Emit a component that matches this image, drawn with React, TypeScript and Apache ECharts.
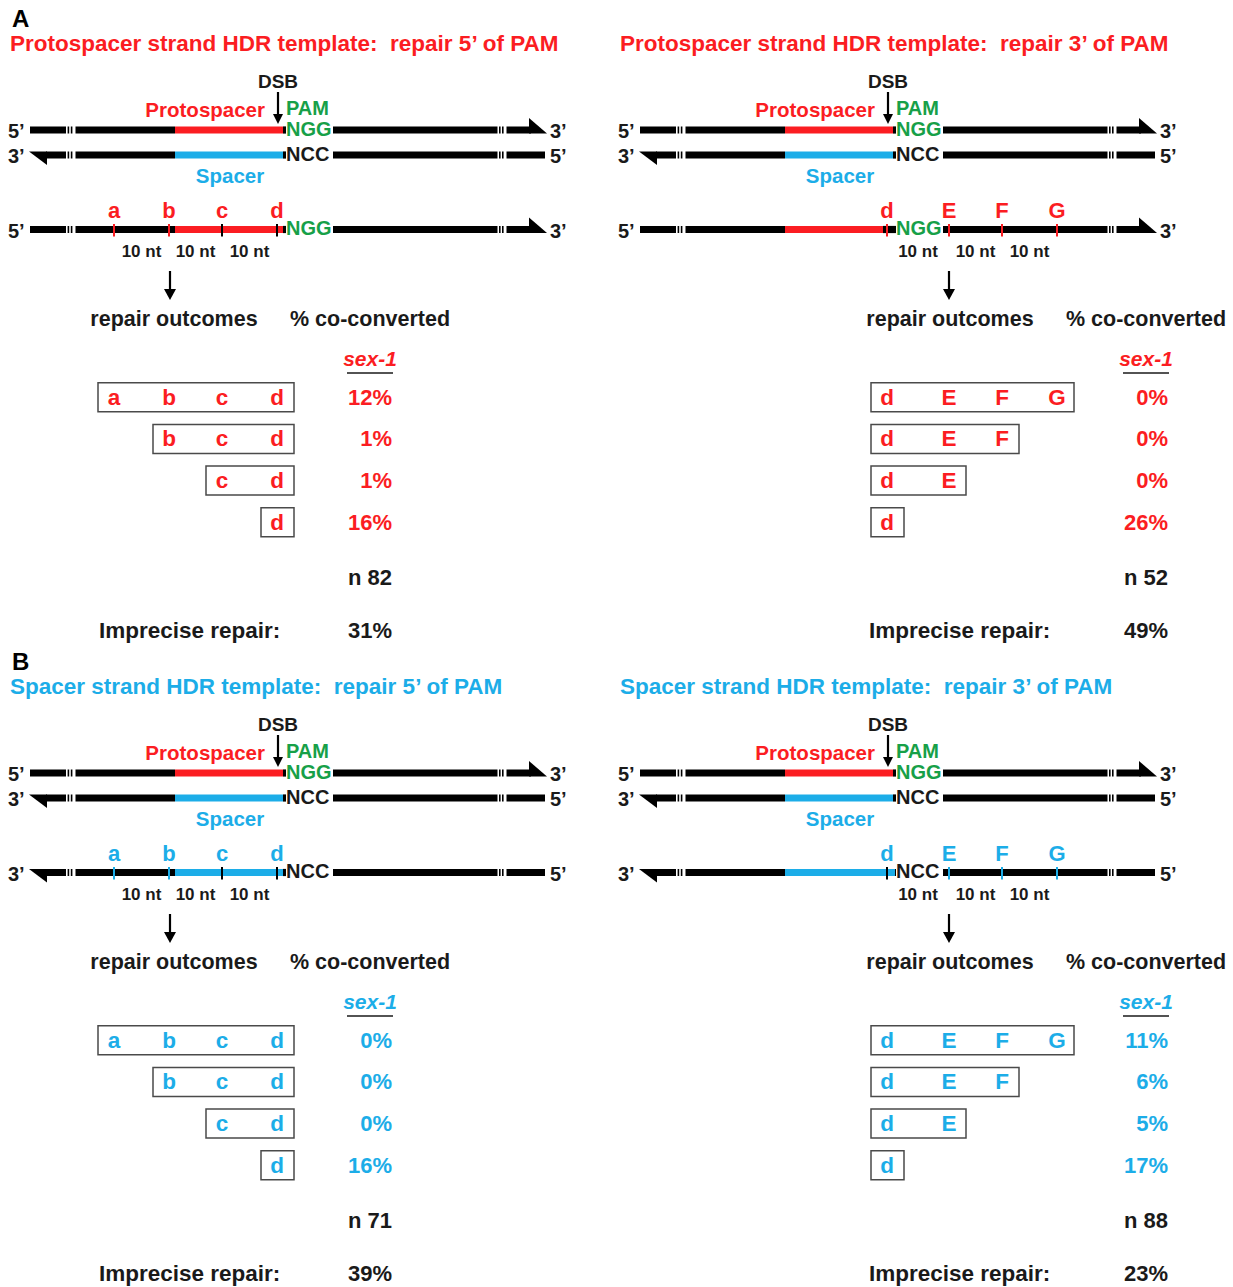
import React, { useEffect, useRef } from 'react';
import * as echarts from 'echarts';

// ---------- data ----------
const panelLetters = ['A', 'B'];
const panelTitles = [
  'Protospacer strand HDR template:  repair 5’ of PAM',
  'Protospacer strand HDR template:  repair 3’ of PAM',
  'Spacer strand HDR template:  repair 5’ of PAM',
  'Spacer strand HDR template:  repair 3’ of PAM',
];
const markers5 = ['a', 'b', 'c', 'd'];
const markers3 = ['d', 'E', 'F', 'G'];
const spacingLabel = '10 nt';
const outcomes5 = [['a', 'b', 'c', 'd'], ['b', 'c', 'd'], ['c', 'd'], ['d']];
const outcomes3 = [['d', 'E', 'F', 'G'], ['d', 'E', 'F'], ['d', 'E'], ['d']];
const coConvertedA5 = [12, 1, 1, 16];
const coConvertedA3 = [0, 0, 0, 26];
const coConvertedB5 = [0, 0, 0, 16];
const coConvertedB3 = [11, 6, 5, 17];
const nValues = [82, 52, 71, 88];
const impreciseRepair = [31, 49, 39, 23];
const geneName = 'sex-1';

// ---------- style ----------
const RED = '#fb1d22';
const BLUE = '#1cade8';
const GREEN = '#17a048';
const INK = '#1a1a1a';
const FONT = '"Liberation Sans", Arial, Helvetica, sans-serif';
const HB = 3.6; // half bar thickness

type El = any;

function txt(x: number, y: number, s: string, size: number, fill: string, align = 'left', italic = false): El {
  return {
    type: 'text',
    x,
    y,
    style: {
      text: s,
      fill,
      fontSize: size,
      fontWeight: 'bold',
      fontStyle: italic ? 'italic' : 'normal',
      fontFamily: FONT,
      align,
      verticalAlign: 'middle',
      textAlign: align,
      textVerticalAlign: 'middle',
    },
  };
}
function rect(x1: number, x2: number, y1: number, y2: number, fill: string): El {
  return { type: 'rect', shape: { x: x1, y: y1, width: x2 - x1, height: y2 - y1 }, style: { fill } };
}
function bar(x1: number, x2: number, yc: number, fill: string): El {
  return rect(x1, x2, yc - HB, yc + HB, fill);
}
function poly(points: number[][], fill: string): El {
  return { type: 'polygon', shape: { points }, style: { fill } };
}
function downArrow(x: number, y1: number, y2: number, hw: number, hl: number, lw = 2): El[] {
  return [
    { type: 'line', shape: { x1: x, y1, x2: x, y2: y2 - hl + 1 }, style: { stroke: '#000', lineWidth: lw } },
    poly([[x - hw / 2, y2 - hl], [x + hw / 2, y2 - hl], [x, y2]], '#000'),
  ];
}
function gaps(ox: number, yc: number): El[] {
  const g = [[66, 67.6], [69.2, 70.8], [72.4, 75.5], [497.5, 499], [500.6, 502], [503.6, 506.5]];
  return g.map(([a, b]) => rect(ox + a, ox + b, yc - HB - 0.5, yc + HB + 0.5, '#fff'));
}

// strand pointing right (5' -> 3'), with optional coloured region
function strandRight(ox: number, yc: number, col: string, cEnd: number): El[] {
  const e: El[] = [];
  e.push(bar(ox + 30, ox + 175, yc, '#000'));
  e.push(bar(ox + 175, ox + cEnd, yc, col));
  if (cEnd < 286) e.push(bar(ox + cEnd, ox + 286, yc, '#000'));
  e.push(bar(ox + 333, ox + 531, yc, '#000'));
  e.push(poly([[ox + 529, yc + HB], [ox + 529, yc - 12], [ox + 547, yc + HB]], '#000'));
  e.push(...gaps(ox, yc));
  e.push(txt(ox + 8, yc + 1, '5’', 20, INK));
  e.push(txt(ox + 550, yc + 1, '3’', 20, INK));
  e.push(txt(ox + 286, yc - 1.5, 'NGG', 20, GREEN));
  return e;
}
// strand pointing left (3' <- 5')
function strandLeft(ox: number, yc: number, col: string, cEnd: number): El[] {
  const e: El[] = [];
  e.push(bar(ox + 46, ox + 175, yc, '#000'));
  e.push(poly([[ox + 29, yc - HB], [ox + 47, yc - HB], [ox + 47, yc + 10]], '#000'));
  e.push(bar(ox + 175, ox + cEnd, yc, col));
  if (cEnd < 286) e.push(bar(ox + cEnd, ox + 286, yc, '#000'));
  e.push(bar(ox + 333, ox + 545, yc, '#000'));
  e.push(...gaps(ox, yc));
  e.push(txt(ox + 8, yc + 1, '3’', 20, INK));
  e.push(txt(ox + 550, yc + 1, '5’', 20, INK));
  e.push(txt(ox + 286, yc - 1.5, 'NCC', 20, INK));
  return e;
}

const markerX5 = [114, 169, 222, 277];
const markerX3 = [277, 339, 392, 447];

function panel(idx: number): El[] {
  const right = idx % 2 === 1;
  const isB = idx >= 2;
  const ox = right ? 610 : 0;
  const oy = isB ? 643 : 0;
  const col = isB ? BLUE : RED;
  const colEnd = right ? (isB ? 285 : 273) : 283;
  const markers = right ? markers3 : markers5;
  const mX = right ? markerX3 : markerX5;
  const outcomes = right ? outcomes3 : outcomes5;
  const values = [coConvertedA5, coConvertedA3, coConvertedB5, coConvertedB3][idx];
  const sx = right ? 776 : 0; // outcome column shift
  const e: El[] = [];

  if (!right) e.push(txt(12, oy + 18, panelLetters[isB ? 1 : 0], 24, '#000'));
  e.push(txt(ox + 10, oy + 43, panelTitles[idx], 22.5, col));

  // double strand
  e.push(txt(ox + 278, oy + 81, 'DSB', 19, INK, 'center'));
  e.push(...downArrow(ox + 278, oy + 92, oy + 124, 10, 10, 2.2));
  e.push(txt(ox + 265, oy + 109, 'Protospacer', 20.5, RED, 'right'));
  e.push(txt(ox + 286, oy + 108, 'PAM', 20, GREEN));
  e.push(...strandRight(ox, oy + 130, RED, 283));
  e.push(...strandLeft(ox, oy + 155, BLUE, 283));
  e.push(txt(ox + 230, oy + 175, 'Spacer', 20.5, BLUE, 'center'));

  // template
  const ty = oy + 229.5;
  if (isB) e.push(...strandLeft(ox, ty, col, colEnd));
  else e.push(...strandRight(ox, ty, col, colEnd));
  markers.forEach((m, i) => {
    const x = ox + mX[i];
    const onColour = mX[i] >= 175 && mX[i] <= colEnd;
    e.push(rect(x - 1, x + 1, ty - 5.5, ty + 7, onColour ? '#000' : col));
    e.push(txt(x, oy + 210, m, 22, col, 'center'));
    if (i > 0) e.push(txt(ox + (mX[i - 1] + mX[i]) / 2, oy + 251, spacingLabel, 17, INK, 'center'));
  });

  // outcomes
  const arrowX = right ? ox + 339 : ox + 170;
  e.push(...downArrow(arrowX, oy + 271, oy + 300, 12, 11, 2.2));
  e.push(txt(174 + sx, oy + 319, 'repair outcomes', 21.5, INK, 'center'));
  e.push(txt(370 + sx, oy + 319, '% co-converted', 21.5, INK, 'center'));
  e.push(txt(370 + sx, oy + 358, geneName, 21, col, 'center', true));
  e.push({ type: 'line', shape: { x1: 347 + sx, y1: oy + 373, x2: 393 + sx, y2: oy + 373 }, style: { stroke: INK, lineWidth: 1.5 } });

  outcomes.forEach((row, r) => {
    const yc = oy + 397.2 + r * 41.7;
    const xs = row.map((l) => ox + mX[markers.indexOf(l)]);
    const x1 = xs[0] - 16;
    const x2 = xs[xs.length - 1] + 17;
    e.push({
      type: 'rect',
      shape: { x: x1, y: yc - 14.5, width: x2 - x1, height: 29 },
      style: { fill: 'none', stroke: '#4a4a4a', lineWidth: 1.5 },
    });
    row.forEach((l, i) => e.push(txt(xs[i], yc, l, 22.5, col, 'center')));
    e.push(txt(392 + sx, yc, `${values[r]}%`, 22, col, 'right'));
  });

  e.push(txt(392 + sx, oy + 577, `n ${nValues[idx]}`, 22, INK, 'right'));
  e.push(txt(99 + (right ? 770 : 0), oy + 630, 'Imprecise repair:', 22.5, INK));
  e.push(txt(392 + sx, oy + 630, `${impreciseRepair[idx]}%`, 22, INK, 'right'));
  return e;
}

export default function App() {
  const ref = useRef<HTMLDivElement>(null);
  useEffect(() => {
    if (!ref.current) return;
    const chart = echarts.init(ref.current, null, { renderer: 'svg' });
    const elements: El[] = [];
    for (let i = 0; i < 4; i++) elements.push(...panel(i));
    chart.setOption({
      animation: false,
      backgroundColor: '#ffffff',
      graphic: { elements },
    });
    return () => chart.dispose();
  }, []);
  return (
    <div
      ref={ref}
      style={{ position: 'absolute', left: 0, top: 0, width: 1233, height: 1287, background: '#fff' }}
    />
  );
}
